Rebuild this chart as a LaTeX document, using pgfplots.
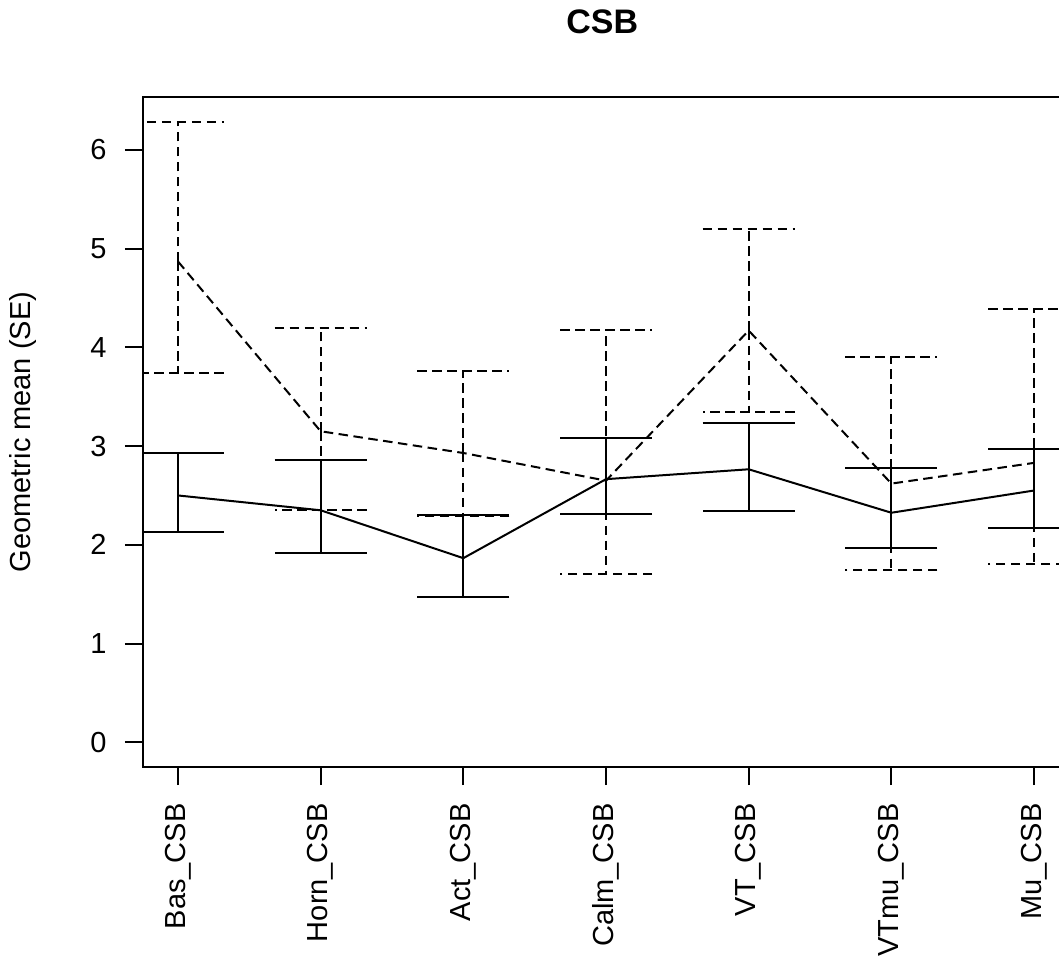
\documentclass[border=0pt]{standalone}
\usepackage{fontspec}
\setmainfont{Liberation Sans}
\usepackage{pgfplots}
\usepackage{pgfplotstable}
\pgfplotsset{compat=1.18}
\pgfplotstableread{
x y ep em
1 2.50  0.43  0.37
2 2.35  0.51  0.435
3 1.865 0.435 0.39
4 2.665 0.415 0.355
5 2.765 0.465 0.425
6 2.325 0.455 0.36
7 2.55  0.42  0.38
}\solidtab
\pgfplotstableread{
x y ep em
1 4.87 1.41 1.13
2 3.15 1.05 0.80
3 2.93 0.83 0.64
4 2.65 1.53 0.95
5 4.17 1.03 0.82
6 2.62 1.28 0.874
7 2.83 1.56 1.02
}\dashtab
\begin{document}
\begin{tikzpicture}
\useasboundingbox (-71.5pt,-96.5pt) rectangle (458pt,383.5pt);
\clip (-71.5pt,-96.5pt) rectangle (458pt,383.5pt);
\begin{axis}[
  at={(0pt,0pt)}, anchor=south west,
  scale only axis, width=463pt, height=335pt,
  xmin=0.755, xmax=7.245, ymin=-0.25, ymax=6.535,
  xtick={1,2,3,4,5,6,7},
  xticklabels={Bas\_CSB,Horn\_CSB,Act\_CSB,Calm\_CSB,VT\_CSB,VTmu\_CSB,Mu\_CSB},
  ytick={0,1,2,3,4,5,6},
  xtick pos=left, ytick pos=left, tick align=outside,
  major tick length=9pt,
  axis line style={line width=1pt, black},
  every tick/.style={black, line width=1pt},
  /pgf/number format/assume math mode=true,
  ticklabel style={font=\fontsize{14.5}{17}\selectfont, inner sep=0pt},
  xticklabel style={rotate=90, anchor=east},
  yticklabel style={anchor=east},
  xticklabel shift=9pt, yticklabel shift=9pt,
  title={CSB},
  title style={at={(axis description cs:0.496,1.0776)}, anchor=base, font=\bfseries\fontsize{17}{20}\selectfont},
  ylabel={Geometric mean (SE)},
  every axis y label/.style={at={(axis description cs:-0.1296,0.5)}, rotate=90, anchor=center, font=\fontsize{14.5}{17}\selectfont},
  clip mode=individual,
]
\addplot[black, line width=1pt, mark=none,
  error bars/.cd, y dir=both, y explicit,
  error bar style={line width=1pt, solid},
  error mark=|,
  error mark options={black, line width=1pt, solid, mark size=23pt}]
  table[x=x, y=y, y error plus=ep, y error minus=em] {\solidtab};
\addplot[black, line width=1pt, mark=none, dash pattern=on 4.75pt off 2.75pt,
  error bars/.cd, y dir=both, y explicit,
  error bar style={line width=1pt, dash pattern=on 4.75pt off 2.75pt},
  error mark=|,
  error mark options={black, line width=1pt, dash pattern=on 4.75pt off 2.75pt, mark size=23pt}]
  table[x=x, y=y, y error plus=ep, y error minus=em] {\dashtab};
\end{axis}
\end{tikzpicture}
\end{document}
